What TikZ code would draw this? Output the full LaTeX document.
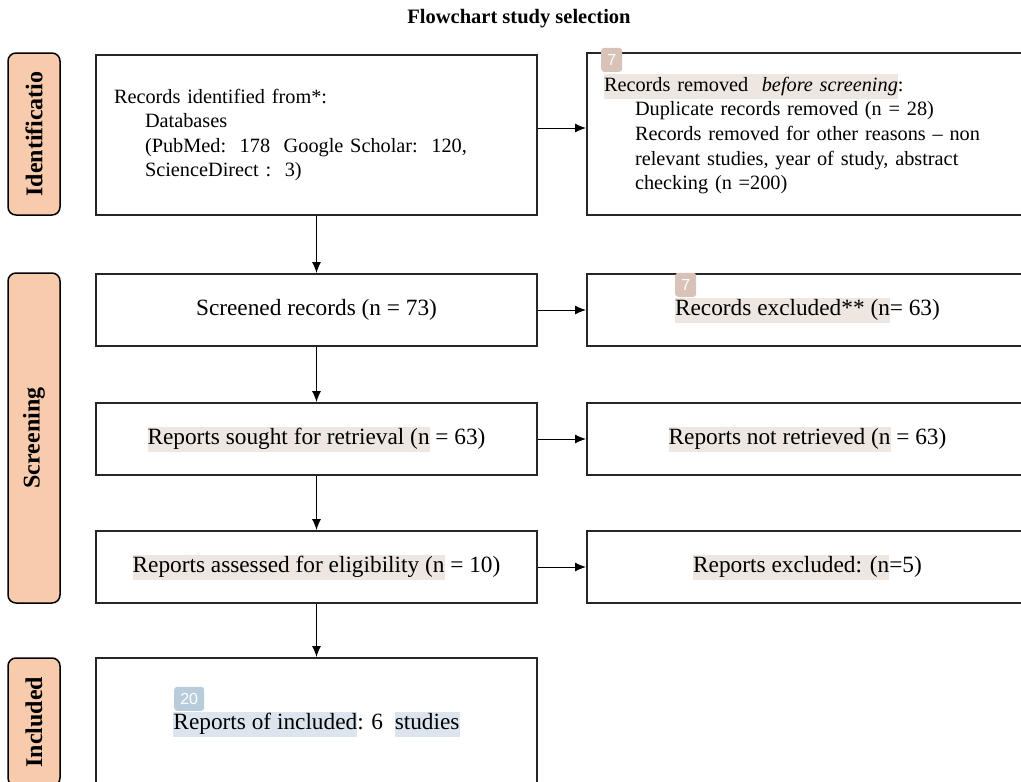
\documentclass[tikz,border=0pt]{standalone}
\usepackage{fontspec}
\setmainfont{Liberation Serif}
\newfontfamily\badgefont{Liberation Sans}
\usetikzlibrary{arrows.meta,positioning}

\definecolor{stagefill}{HTML}{F8CBAD}
\definecolor{hlbeige}{HTML}{EEE6E1}
\definecolor{badgebeige}{HTML}{D9C3B9}
\definecolor{hlblue}{HTML}{DCE5EE}
\definecolor{badgeblue}{HTML}{B9CCDC}

\newcommand\hlt[2][hlbeige]{{\setlength\fboxsep{0pt}\colorbox{#1}{\strut #2}}}
\newcommand\ind{\hspace*{31pt}}

\tikzset{
  bodytext/.style={font=\fontsize{23.3}{25}\selectfont},
  listtext/.style={font=\fontsize{20.3}{24.6}\selectfont},
  stage/.style={draw=black, line width=1.5pt, fill=stagefill, rounded corners=8pt, inner sep=0pt, rotate=90, font=\fontsize{24}{26}\selectfont\bfseries},
  flowbox/.style={draw=black!85, line width=2pt, minimum width=441pt, inner sep=0pt, bodytext},
  badge/.style={fill=#1, rounded corners=3pt, text=white, font=\badgefont\fontsize{16}{16}\selectfont, minimum width=21pt, minimum height=24pt, inner sep=0pt, anchor=south west},
  badge/.default=badgebeige,
  flow/.style={-{Latex[length=11pt,width=9pt]}, line width=1pt}
}

\begin{document}
\begin{tikzpicture}[x=1pt,y=-1pt]
\useasboundingbox (0,0) rectangle (1021,782);
\clip (0,0) rectangle (1021,782);

\node[font=\fontsize{20.5}{22}\selectfont\bfseries] (title) at (519,19) {Flowchart study selection};

% stage labels
\node[stage, minimum width=162pt, minimum height=52pt] (ident) at (34,134) {Identificatio};
\node[stage, minimum width=330pt, minimum height=52pt] (screen) at (34,438) {Screening};
\node[stage, minimum width=128pt, minimum height=52pt] (incl) at (34,722) {Included};

% left column
\node[flowbox, listtext, minimum height=160pt, text width=405pt, align=left] (box1) at (316.5,135) {Records identified from*:\\
\ind Databases\\
\ind (PubMed:\ \ 178\ \ Google Scholar:\ \ 120,\\
\ind ScienceDirect :\ \ 3)};
\node[flowbox, minimum height=72pt] (box2) at (316.5,310) {Screened records (n = 73)};
\node[flowbox, minimum height=72pt] (box3) at (316.5,439) {\hlt{Reports sought for retrieval (n} = 63)};
\node[flowbox, minimum height=72pt] (box4) at (316.5,567) {\hlt{Reports assessed for eligibility (n} = 10)};
\node[flowbox, minimum height=160pt] (box5) at (316.5,738) {};
\node[bodytext] (box5txt) at (316.5,724) {\hlt[hlblue]{Reports of included}: 6\ \ \hlt[hlblue]{studies}};
\node[badge=badgeblue, minimum width=30pt] (c20) at (174,711) {20};

% right column
\node[flowbox, listtext, minimum height=162pt, text width=407pt, align=left] (r1) at (807.5,134) {\hlt{Records removed\ \ \textit{before screening}}:\\
\ind Duplicate records removed (n = 28)\\
\ind Records removed for other reasons -- non\\
\ind relevant studies, year of study, abstract\\
\ind checking (n =200)};
\node[badge] (c7a) at (601,72) {7};
\node[flowbox, minimum height=72pt] (r2) at (807.5,310) {\hlt{Records excluded** (n}= 63)};
\node[badge] (c7b) at (675,297) {7};
\node[flowbox, minimum height=72pt] (r3) at (807.5,439) {\hlt{Reports not retrieved (n} = 63)};
\node[flowbox, minimum height=72pt] (r4) at (807.5,567) {\hlt{Reports excluded: (n}=5)};

% connectors
\draw[flow] (box1) -- (box2);
\draw[flow] (box2) -- (box3);
\draw[flow] (box3) -- (box4);
\draw[flow] (box4) -- (box5);
\draw[flow] ([yshift=7pt]box1.east) -- ([yshift=7pt]box1.east -| r1.west);
\draw[flow] (box2) -- (r2);
\draw[flow] (box3) -- (r3);
\draw[flow] (box4) -- (r4);

\end{tikzpicture}
\end{document}
